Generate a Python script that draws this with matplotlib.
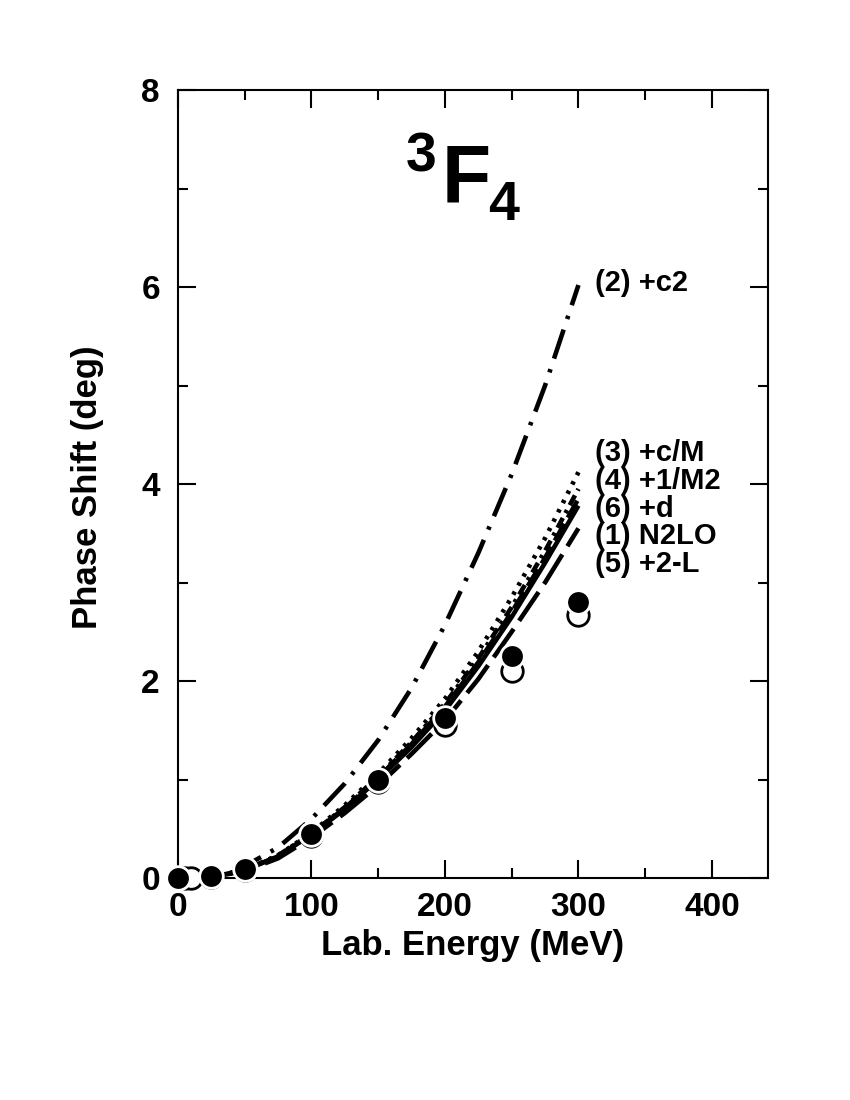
import matplotlib
matplotlib.use("Agg")
import matplotlib.pyplot as plt

plt.rcParams['font.family'] = ['Liberation Sans', 'DejaVu Sans']
plt.rcParams['font.weight'] = 'bold'
plt.rcParams['lines.scale_dashes'] = False

# Curve energies (MeV)
energy = [0, 25, 50, 75, 100, 125, 150, 175, 200, 225, 250, 275, 300]
# Phase shifts (deg)
n2lo = [0, 0.01, 0.08, 0.22, 0.44, 0.70, 1.00, 1.33, 1.70, 2.15, 2.65, 3.20, 3.78]
c2 = [0, 0.02, 0.12, 0.31, 0.60, 0.96, 1.40, 1.93, 2.57, 3.30, 4.10, 5.00, 6.02]
cM = [0, 0.01, 0.08, 0.23, 0.46, 0.74, 1.06, 1.42, 1.82, 2.30, 2.85, 3.45, 4.12]
M2 = [0, 0.01, 0.08, 0.23, 0.45, 0.72, 1.03, 1.38, 1.77, 2.23, 2.75, 3.32, 3.95]
twoL = [0, 0.01, 0.07, 0.20, 0.41, 0.66, 0.94, 1.26, 1.60, 2.02, 2.50, 3.00, 3.55]
dterm = [0, 0.01, 0.08, 0.22, 0.45, 0.71, 1.02, 1.36, 1.74, 2.19, 2.70, 3.25, 3.85]

# Data points
pwa_e = [0, 25, 50, 100, 150, 200, 250, 300]
pwa_filled = [0.0, 0.02, 0.09, 0.45, 0.99, 1.62, 2.25, 2.80]
pwa_open_e = [1, 5, 10, 25, 50, 100, 150, 200, 250, 300]
pwa_open = [0.0, 0.0, 0.0, 0.01, 0.08, 0.43, 0.97, 1.55, 2.10, 2.67]

labels = ["(2) +c2", "(3) +c/M", "(4) +1/M2", "(6) +d", "(1) N2LO", "(5) +2-L"]
label_y = [6.04, 4.31, 4.03, 3.75, 3.47, 3.19]

fig = plt.figure(figsize=(8.5, 11), dpi=100)
ax = fig.add_axes([178/850, 1-878/1100, (768-178)/850, (878-90)/1100])

lw = 3.3
ax.plot(energy, n2lo, color='black', lw=lw, solid_capstyle='butt')
ax.plot(energy, c2, color='black', lw=lw, dashes=(22, 8, 2.5, 8))
ax.plot(energy, cM, color='black', lw=lw, dashes=(2.5, 5))
ax.plot(energy, M2, color='black', lw=lw, dashes=(8, 4, 2.5, 4))
ax.plot(energy, dterm, color='black', lw=lw, dashes=(14, 5))
ax.plot(energy, twoL, color='black', lw=lw, dashes=(25, 7))

ax.plot(pwa_open_e, pwa_open, 'o', ms=15.5, mfc='white', mec='black', mew=2, clip_on=False, zorder=5)
ax.plot(pwa_e, pwa_filled, 'o', ms=17, mfc='black', mec='white', mew=2, clip_on=False, zorder=6)

for lab, yv in zip(labels, label_y):
    ax.text(312.7, yv, lab, fontsize=21, fontweight='bold', va='center', ha='left')

ax.set_xlim(0, 442)
ax.set_ylim(0, 8)
ax.set_xticks([0, 100, 200, 300, 400])
ax.set_xticks([50, 150, 250, 350], minor=True)
ax.set_yticks([0, 2, 4, 6, 8])
ax.set_yticks([1, 3, 5, 7], minor=True)
ax.tick_params(which='both', direction='in', top=True, right=True, width=1.5, labelsize=24)
ax.tick_params(which='major', length=13)
ax.tick_params(which='minor', length=7)
ax.tick_params(axis='x', pad=10)
ax.tick_params(axis='y', pad=13)
for lab in ax.get_xticklabels() + ax.get_yticklabels():
    lab.set_fontweight('bold')
for sp in ax.spines.values():
    sp.set_linewidth(1.5)

fig.text(473/850, 1-945/1100, "Lab. Energy (MeV)", fontsize=25, fontweight='bold', ha='center', va='center')
fig.text(88/850, 1-487/1100, "Phase Shift (deg)", fontsize=25, fontweight='bold', ha='center', va='center', rotation=90)

fig.text(406/850, 1-172/1100, "3", fontsize=40, fontweight='bold', ha='left', va='baseline')
fig.text(442/850, 1-202/1100, "F", fontsize=58, fontweight='bold', ha='left', va='baseline')
fig.text(488/850, 1-220/1100, "4", fontsize=40, fontweight='bold', ha='left', va='baseline')

fig.savefig("out.png", dpi=100)
